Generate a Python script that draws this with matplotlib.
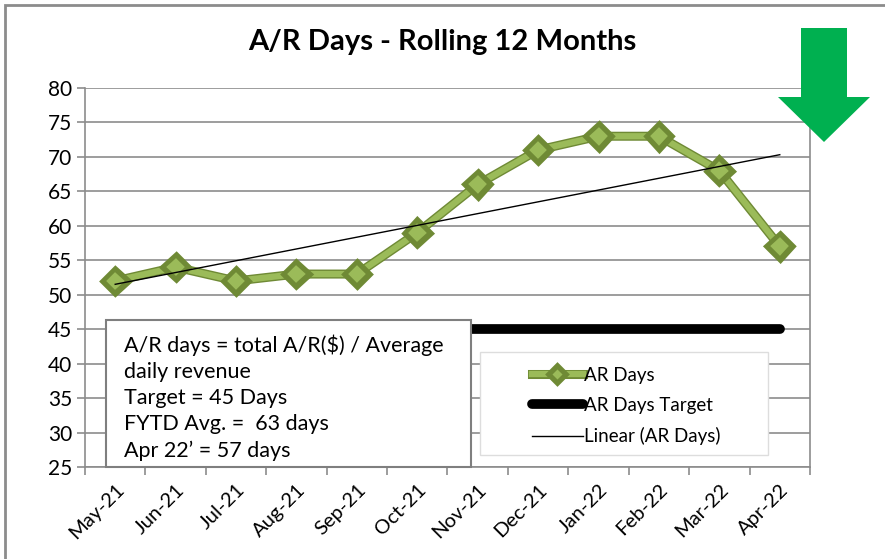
import numpy as np
import matplotlib
matplotlib.use('Agg')
import matplotlib.pyplot as plt
import matplotlib.patheffects as pe
from matplotlib.patches import Rectangle, Polygon
from matplotlib.lines import Line2D

# ── data ──────────────────────────────────────────────────────────────────────
months  = ['May-21', 'Jun-21', 'Jul-21', 'Aug-21', 'Sep-21', 'Oct-21',
           'Nov-21', 'Dec-21', 'Jan-22', 'Feb-22', 'Mar-22', 'Apr-22']
ar_days = [52, 54, 52, 53, 53, 59, 66, 71, 73, 73, 68, 57]
target  = [45] * 12
y_ticks = [25, 30, 35, 40, 45, 50, 55, 60, 65, 70, 75, 80]

note_lines = ['A/R days = total A/R($) / Average', 'daily revenue',
              'Target = 45 Days', 'FYTD Avg. =  63 days', 'Apr 22\u2019 = 57 days']

# ── palette ──────────────────────────────────────────────────────────────────
OLIVE   = '#9BBB59'
OLIVE_D = '#6F8A35'
GRID    = '#8C8C8C'
ARROW   = '#00B050'

W, H, DPI = 885, 559, 100
plt.rcParams['font.family'] = ['Lato', 'DejaVu Sans']

fig = plt.figure(figsize=(W / DPI, H / DPI), dpi=DPI, facecolor='white')


def fx(px):
    return px / W


def fy(py):
    return 1 - py / H


ax = fig.add_axes([fx(85), fy(467), fx(810) - fx(85), fy(88) - fy(467)])
x = np.arange(len(months))

# gridlines
for v in y_ticks:
    ax.axhline(v, color=GRID, lw=1.2, zorder=1)

# target line
ax.plot(x, target, color='black', lw=7, solid_capstyle='round', zorder=3)

# AR days
olive_fx = [pe.Stroke(linewidth=6.5, foreground=OLIVE_D), pe.Normal()]
ax.plot(x, ar_days, color=OLIVE, lw=4.5, marker='D', markersize=10.5,
        markerfacecolor=OLIVE, markeredgecolor=OLIVE_D, markeredgewidth=1.2,
        path_effects=olive_fx, zorder=4)

# linear trend
k, b = np.polyfit(x, ar_days, 1)
ax.plot(x, k * x + b, color='black', lw=1, zorder=5)

ax.set_xlim(-0.5, len(months) - 0.5)
ax.set_ylim(25, 80)
ax.set_yticks(y_ticks)
ax.set_xticks(x)
ax.set_xticklabels(months, rotation=45, ha='right', rotation_mode='anchor',
                   fontsize=14.5)
ax.set_xticks(np.arange(-0.5, len(months)), minor=True)
ax.tick_params(axis='x', which='major', length=0, pad=10)
ax.tick_params(axis='x', which='minor', length=6, color=GRID, width=1.2)
ax.tick_params(axis='y', length=6, color=GRID, width=1.2, labelsize=15, pad=3)

for s in ['top', 'right']:
    ax.spines[s].set_visible(False)
for s in ['left', 'bottom']:
    ax.spines[s].set_color(GRID)
    ax.spines[s].set_linewidth(1.2)
# right plot-area border
ax.plot([810 / W, 810 / W], [fy(467), fy(88)], transform=fig.transFigure,
        color=GRID, lw=1.2, clip_on=False, zorder=1)

# title
fig.text(0.5, fy(42), 'A/R Days - Rolling 12 Months', ha='center', va='center',
         fontsize=21, fontweight='bold')

# note box
fig.patches.append(Rectangle((fx(106), fy(467)), fx(471) - fx(106), fy(320) - fy(467),
                             transform=fig.transFigure, facecolor='white',
                             edgecolor='#7F7F7F', lw=1.5, zorder=6))
for i, line in enumerate(note_lines):
    fig.text(fx(124), fy(345 + i * 26.5), line, ha='left', va='center',
             fontsize=15.5, zorder=7)

# legend
fig.patches.append(Rectangle((fx(480), fy(455)), fx(768) - fx(480), fy(352) - fy(455),
                             transform=fig.transFigure, facecolor='white',
                             edgecolor='#DDDDDD', lw=1, zorder=6))
leg_handles = [
    Line2D([], [], color=OLIVE, lw=4.5, marker='D', markersize=6,
           markerfacecolor=OLIVE, markeredgecolor=OLIVE_D, path_effects=olive_fx),
    Line2D([], [], color='black', lw=7, solid_capstyle='round'),
    Line2D([], [], color='black', lw=1),
]
leg_labels = ['AR Days', 'AR Days Target', 'Linear (AR Days)']
leg = fig.legend(leg_handles, leg_labels,
                 loc='upper left', bbox_to_anchor=(fx(515), fy(350)),
                 frameon=False, fontsize=13.5, handlelength=2.7,
                 handletextpad=0.1, labelspacing=0.7, borderpad=0.4)
leg.set_zorder(8)

# green down arrow
arrow_pts = [(801, 28), (847, 28), (847, 97), (870, 97), (824, 142),
             (778, 97), (801, 97)]
fig.patches.append(Polygon([(fx(px), fy(py)) for px, py in arrow_pts],
                           closed=True, transform=fig.transFigure,
                           facecolor=ARROW, edgecolor='none', zorder=9))

# outer chart border
fig.patches.append(Rectangle((fx(5), -0.1), 1.2, fy(5) + 0.1,
                             transform=fig.transFigure, facecolor='none',
                             edgecolor='#8C8C8C', lw=2, zorder=10))

fig.savefig('out.png', dpi=DPI, facecolor='white')
